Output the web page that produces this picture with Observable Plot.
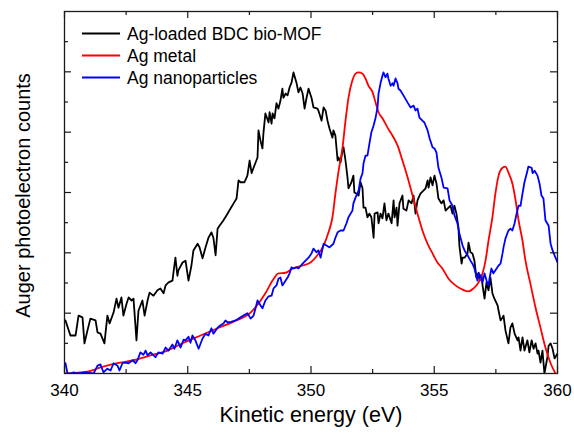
<!DOCTYPE html>
<html><head><meta charset="utf-8">
<script src="https://cdn.jsdelivr.net/npm/d3@7"></script>
<script src="https://cdn.jsdelivr.net/npm/@observablehq/plot@0.6"></script>
<style>body{margin:0;background:#fff;} svg{display:block;}</style>
</head><body><div id="chart"></div>
<script>
const seriesNames = ["Ag-loaded BDC bio-MOF", "Ag metal", "Ag nanoparticles"];
const seriesColors = ["#000000", "#ff0000", "#0000ff"];
const xLabel = "Kinetic energy (eV)";
const yLabel = "Auger photoelectron counts";
const xMajorTicks = [340, 345, 350, 355, 360];
const xMinorTicks = [342.5, 347.5, 352.5, 357.5];
const yMajorTicks = [1, 2, 3, 4, 5];
const yMinorTicks = [0.5, 1.5, 2.5, 3.5, 4.5, 5.5];

const mofE = [340.04,340.24,340.45,340.57,340.73,340.81,340.93,341.05,341.26,341.34,
341.46,341.62,341.74,341.83,341.99,342.11,342.19,342.31,342.39,342.52,
342.60,342.72,342.80,342.92,343.00,343.16,343.25,343.37,343.45,343.61,
343.77,343.89,344.02,344.10,344.22,344.38,344.42,344.50,344.58,344.62,
344.79,344.91,345.03,345.15,345.23,345.40,345.48,345.60,345.72,345.84,
345.96,346.04,346.13,346.21,346.29,346.45,346.57,346.73,346.86,346.98,
347.06,347.14,347.30,347.42,347.51,347.59,347.67,347.83,347.87,347.95,
348.03,348.07,348.15,348.28,348.32,348.40,348.44,348.52,348.60,348.68,
348.76,348.84,348.88,348.97,349.05,349.13,349.21,349.29,349.41,349.49,
349.57,349.66,349.74,349.82,349.90,350.02,350.10,350.26,350.30,350.43,
350.51,350.59,350.67,350.75,350.87,350.91,350.99,351.08,351.12,351.20,
351.28,351.32,351.40,351.48,351.52,351.64,351.72,351.76,351.85,351.93,
352.01,352.09,352.13,352.21,352.29,352.37,352.45,352.54,352.58,352.70,
352.74,352.82,352.90,352.98,353.06,353.14,353.27,353.35,353.39,353.47,
353.51,353.59,353.71,353.75,353.87,353.96,354.08,354.16,354.24,354.32,
354.44,354.56,354.65,354.73,354.77,354.85,354.93,355.01,355.09,355.17,
355.29,355.38,355.46,355.58,355.66,355.74,355.82,355.90,355.98,356.02,
356.11,356.15,356.23,356.35,356.39,356.47,356.55,356.63,356.71,356.80,
356.84,356.92,356.96,357.04,357.12,357.20,357.28,357.36,357.44,357.57,
357.61,357.69,357.77,357.81,357.89,358.01,358.09,358.17,358.26,358.38,
358.42,358.50,358.58,358.66,358.78,358.86,358.95,359.03,359.11,359.19,
359.23,359.31,359.39,359.47,359.59,359.64,359.72,359.80,359.88,360.00];
const mofCounts = [0.88,0.63,0.63,0.96,0.93,0.50,0.71,0.91,0.88,0.68,
0.66,0.50,0.96,0.83,1.01,1.24,1.09,1.26,0.96,1.16,
1.26,1.21,1.24,0.55,1.04,1.21,0.96,1.21,1.34,1.29,
1.38,1.41,1.33,1.46,1.51,1.54,1.67,1.92,1.62,1.71,
1.84,1.87,1.54,1.79,2.04,2.15,2.09,1.91,2.09,2.25,
2.34,2.25,1.96,2.40,2.45,2.54,2.62,2.73,2.82,2.90,
3.20,3.17,3.17,3.28,3.53,3.32,3.41,3.58,4.03,3.86,
3.73,3.98,4.31,4.16,4.33,4.14,4.31,4.23,4.48,4.39,
4.52,4.72,4.57,4.64,4.61,4.74,4.82,4.99,4.82,4.66,
4.74,4.64,4.39,4.57,4.72,4.57,4.41,4.39,4.36,4.19,
4.41,4.36,4.19,4.06,3.91,4.03,3.94,3.53,3.58,3.50,
3.70,3.75,3.53,3.25,3.07,3.17,3.28,3.00,2.98,2.95,
3.17,3.07,2.75,2.75,2.59,2.65,2.59,2.25,2.65,2.67,
2.49,2.65,2.57,2.82,2.54,2.65,2.49,2.87,2.59,2.75,
2.45,2.82,2.95,2.73,2.70,2.87,2.82,2.95,2.65,2.87,
2.98,3.03,3.07,3.20,3.08,3.25,3.12,3.28,3.15,2.90,
2.82,2.87,2.70,2.75,2.78,2.65,2.78,2.65,2.42,2.12,
1.82,1.92,1.92,1.99,2.17,2.01,1.99,1.87,1.59,1.67,
1.54,1.62,1.46,1.24,1.51,1.38,1.59,1.33,1.24,1.13,
1.04,0.88,0.93,0.96,0.71,0.50,0.76,0.83,0.66,0.55,
0.60,0.38,0.60,0.38,0.55,0.35,0.55,0.41,0.50,0.33,
0.38,0.18,0.38,0.00,0.27,0.46,0.50,0.41,0.25,0.33];

const metalE = [340.00,340.93,341.46,342.15,342.80,343.49,344.18,344.83,345.52,346.21,
346.86,347.55,347.87,348.15,348.44,348.68,348.97,349.25,349.66,349.98,
350.26,350.51,350.71,350.87,350.99,351.12,351.28,351.40,351.52,351.68,
351.81,351.93,352.09,352.21,352.33,352.50,352.62,352.74,352.90,353.10,
353.31,353.51,353.71,353.92,354.12,354.32,354.52,354.73,354.93,355.13,
355.33,355.58,355.86,356.15,356.39,356.59,356.80,356.96,357.08,357.20,
357.36,357.48,357.61,357.77,357.89,358.01,358.17,358.30,358.42,358.58,
358.70,358.90,359.11,359.31,359.51,359.72,359.92];
const metalCounts = [0.00,0.03,0.10,0.17,0.22,0.30,0.38,0.51,0.63,0.75,
0.86,1.01,1.16,1.33,1.54,1.66,1.67,1.74,1.79,1.84,
1.96,2.12,2.34,2.59,2.98,3.36,3.75,4.19,4.57,4.86,
4.97,4.99,4.97,4.89,4.77,4.66,4.49,4.33,4.23,4.08,
3.94,3.78,3.53,3.25,2.95,2.65,2.37,2.15,1.99,1.84,
1.74,1.57,1.46,1.39,1.36,1.41,1.51,1.66,1.87,2.20,
2.59,2.98,3.28,3.41,3.43,3.33,3.15,2.87,2.54,2.20,
1.87,1.49,1.09,0.76,0.43,0.17,0.00];

const nanoE = [340.04,340.12,340.24,340.37,340.57,340.85,341.18,341.34,341.46,341.58,
341.74,341.87,341.99,342.15,342.23,342.35,342.47,342.60,342.76,342.88,
342.96,343.08,343.20,343.29,343.37,343.49,343.61,343.69,343.81,343.98,
344.10,344.22,344.38,344.46,344.58,344.71,344.83,344.91,345.03,345.11,
345.19,345.31,345.44,345.60,345.72,345.84,345.96,346.04,346.21,346.33,
346.45,346.53,346.61,346.73,346.94,347.14,347.26,347.42,347.55,347.67,
347.75,347.83,347.95,348.03,348.15,348.28,348.40,348.48,348.60,348.68,
348.76,348.84,348.92,349.05,349.13,349.21,349.29,349.41,349.49,349.66,
349.78,349.90,350.02,350.10,350.22,350.30,350.39,350.51,350.63,350.75,
350.91,350.99,351.08,351.20,351.32,351.44,351.52,351.68,351.72,351.81,
351.93,352.01,352.09,352.13,352.21,352.29,352.37,352.45,352.54,352.62,
352.70,352.74,352.82,352.90,352.94,353.02,353.10,353.14,353.23,353.31,
353.35,353.43,353.51,353.55,353.63,353.75,353.92,354.04,354.16,354.24,
354.32,354.40,354.52,354.60,354.73,354.81,354.93,355.01,355.09,355.17,
355.29,355.38,355.54,355.62,355.74,355.82,355.94,356.02,356.15,356.23,
356.35,356.47,356.55,356.63,356.75,356.80,356.88,356.96,357.04,357.12,
357.20,357.24,357.32,357.40,357.53,357.61,357.69,357.77,357.81,357.89,
358.01,358.09,358.17,358.26,358.34,358.42,358.50,358.58,358.66,358.78,
358.82,358.95,358.99,359.07,359.19,359.27,359.35,359.43,359.51,359.64,
359.72,359.80,359.92,360.00];
const nanoCounts = [0.17,0.00,0.00,0.02,0.00,0.02,0.00,0.13,0.15,0.02,
0.08,0.05,0.17,0.13,0.05,0.17,0.18,0.17,0.22,0.17,
0.22,0.35,0.31,0.38,0.30,0.35,0.30,0.27,0.35,0.33,
0.43,0.38,0.48,0.41,0.55,0.43,0.56,0.55,0.61,0.51,
0.63,0.55,0.41,0.58,0.66,0.63,0.75,0.66,0.76,0.80,
0.83,0.88,0.85,0.85,0.88,0.93,0.96,1.00,0.91,0.96,
1.08,1.21,1.13,1.08,1.21,1.28,1.29,1.41,1.46,1.57,
1.59,1.46,1.51,1.59,1.66,1.76,1.74,1.76,1.74,1.82,
1.87,1.92,1.99,2.07,2.01,2.04,1.92,2.15,2.12,2.09,
2.15,2.25,2.34,2.37,2.37,2.49,2.59,2.70,2.82,2.92,
3.03,3.23,3.32,3.48,3.61,3.61,3.81,4.00,4.11,4.24,
4.41,4.64,4.81,4.94,4.99,4.91,4.97,4.89,4.77,4.81,
4.77,4.89,4.81,4.72,4.69,4.61,4.49,4.41,4.44,4.36,
4.39,4.24,4.19,4.16,4.03,3.90,3.75,3.73,3.66,3.41,
3.25,3.08,3.07,2.87,2.78,2.62,2.49,2.32,2.12,2.04,
1.96,1.87,1.82,1.74,1.54,1.66,1.62,1.51,1.66,1.54,
1.46,1.57,1.74,1.66,1.74,1.79,1.82,1.99,2.09,2.24,
2.37,2.40,2.37,2.49,2.65,2.78,2.78,2.98,3.17,3.36,
3.43,3.41,3.32,3.36,3.28,3.15,2.95,2.90,2.54,2.45,
2.15,2.04,1.92,1.84];

// ---- layout ----
const W = 574, H = 434;
const mL = 64, mR = 17, mT = 11, mB = 61;
const innerW = W - mL - mR, innerH = H - mT - mB;
const FONT = "Arial, 'Liberation Sans', Helvetica, sans-serif";
const majorLen = 7, minorLen = 4;
const axisColor = "#1a1a1a";

const toRows = (E, C) => E.map((e, i) => ({e, c: C[i]}));
const mof = toRows(mofE, mofCounts);
const metal = toRows(metalE, metalCounts);
const nano = toRows(nanoE, nanoCounts);

const tickStyle = {stroke: axisColor, strokeWidth: 1.2};

const chart = Plot.plot({
  width: W, height: H,
  marginLeft: mL, marginRight: mR, marginTop: mT, marginBottom: mB,
  style: {fontFamily: FONT, color: "#000", background: "#fff", overflow: "visible"},
  x: {domain: [340, 360], label: null},
  y: {domain: [0, 6], axis: null, label: null},
  marks: [
    // curves
    Plot.line(mof, {x: "e", y: "c", stroke: seriesColors[0], strokeWidth: 1.8, clip: true}),
    Plot.line(metal, {x: "e", y: "c", stroke: seriesColors[1], strokeWidth: 1.8, curve: "monotone-x", clip: true}),
    Plot.line(nano, {x: "e", y: "c", stroke: seriesColors[2], strokeWidth: 1.8, clip: true}),
    // inward ticks, all four sides
    Plot.ruleX(xMajorTicks, {x: d => d, insetTop: innerH - majorLen, ...tickStyle}),
    Plot.ruleX(xMajorTicks, {x: d => d, insetBottom: innerH - majorLen, ...tickStyle}),
    Plot.ruleX(xMinorTicks, {x: d => d, insetTop: innerH - minorLen, ...tickStyle}),
    Plot.ruleX(xMinorTicks, {x: d => d, insetBottom: innerH - minorLen, ...tickStyle}),
    Plot.ruleY(yMajorTicks, {y: d => d, insetRight: innerW - majorLen, ...tickStyle}),
    Plot.ruleY(yMajorTicks, {y: d => d, insetLeft: innerW - majorLen, ...tickStyle}),
    Plot.ruleY(yMinorTicks, {y: d => d, insetRight: innerW - minorLen, ...tickStyle}),
    Plot.ruleY(yMinorTicks, {y: d => d, insetLeft: innerW - minorLen, ...tickStyle}),
    Plot.frame({stroke: axisColor, strokeWidth: 1.3}),
    // tick labels
    Plot.axisX(xMajorTicks, {tickSize: 0, tickPadding: 10, fontSize: 17, tickFormat: d => String(d), fill: "#000"}),
    // axis titles
    Plot.text([xLabel], {text: d => d, frameAnchor: "bottom", textAnchor: "middle", dy: 48.1, fontSize: 21.5, fill: "#000"}),
    Plot.text([yLabel], {text: d => d, frameAnchor: "left", textAnchor: "middle", lineAnchor: "middle", rotate: -90, dx: -41.4, dy: 3, fontSize: 20, fill: "#000"})
  ]
});

// legend inside the frame (top-left)
const svg = d3.select(chart);
const leg = svg.append("g").attr("font-family", FONT).attr("font-size", 17.5).attr("text-anchor", "start");
seriesNames.forEach((name, i) => {
  const cy = 33.5 + i * 22;
  leg.append("line").attr("x1", 82).attr("x2", 120).attr("y1", cy).attr("y2", cy)
    .attr("stroke", seriesColors[i]).attr("stroke-width", 1.8);
  leg.append("text").attr("x", 127).attr("y", cy).attr("dy", "0.35em")
    .attr("text-anchor", "start").attr("fill", "#000").text(name);
});

document.getElementById("chart").appendChild(chart);
</script>
</body></html>
